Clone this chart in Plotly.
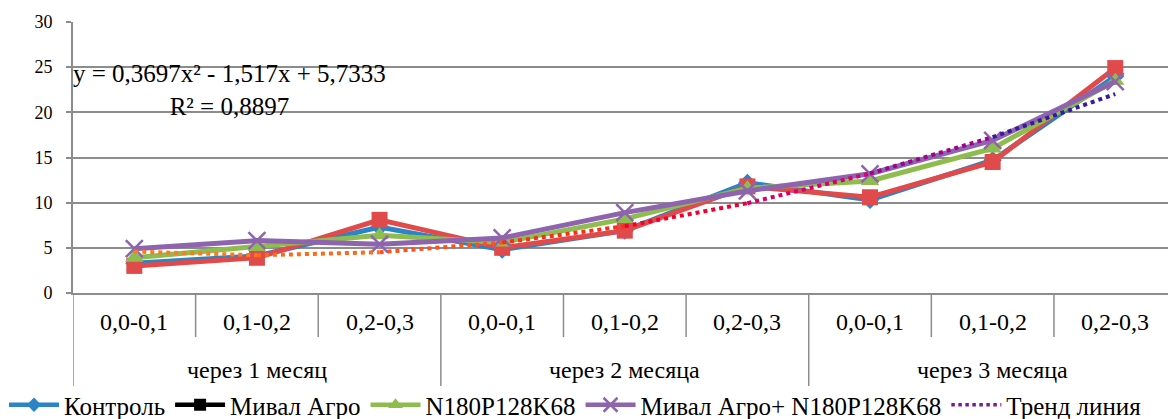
import plotly.graph_objects as go

# ---- data ----
sub_labels = ["0,0-0,1", "0,1-0,2", "0,2-0,3", "0,0-0,1", "0,1-0,2", "0,2-0,3", "0,0-0,1", "0,1-0,2", "0,2-0,3"]
group_labels = ["через 1 месяц", "через 2 месяца", "через 3 месяца"]
kontrol = [3.3, 4.1, 7.3, 4.8, 6.9, 12.2, 10.3, 14.7, 24.0]
mival = [3.0, 3.9, 8.1, 5.0, 6.9, 11.8, 10.6, 14.5, 24.9]
npk = [3.9, 5.1, 6.4, 5.6, 8.2, 11.6, 12.4, 16.0, 23.5]
combo = [4.9, 5.8, 5.4, 6.1, 8.9, 11.3, 13.2, 16.9, 23.4]
trend_coeffs = [0.3697, -1.517, 5.7333]  # a, b, c of y = a x^2 + b x + c
y_ticks = [0, 5, 10, 15, 20, 25, 30]
names = ["Контроль", "Мивал Агро", "N180P128K68", "Мивал Агро+ N180P128K68", "Тренд линия"]

FONT = "Times New Roman, Liberation Serif, DejaVu Serif, serif"
GRID = "#8c8c8c"
xs = list(range(len(sub_labels)))
a, b, c = trend_coeffs
trend = [a * (i + 1) ** 2 + b * (i + 1) + c for i in xs]

fig = go.Figure()

series = [
    (kontrol, "#2a84c6", "diamond", 14, None),
    (mival, "#e04a4a", "square", 16, None),
    (npk, "#8fbc4e", "triangle-up", 16, None),
    (combo, "#8d64ad", "x-thin-open", 17, 2.5),
]
for vals, col, sym, sz, mlw in series:
    marker = dict(symbol=sym, size=sz, color=col)
    if mlw:
        marker["line"] = dict(width=mlw, color=col)
    fig.add_trace(go.Scatter(x=xs, y=vals, mode="lines+markers",
                             line=dict(color=col, width=5), marker=marker,
                             showlegend=False, hoverinfo="skip"))

seg_colors = ["#ff7a1a", "#ff6a1a", "#ff5020", "#ff2a1a", "#f00032", "#d8006c", "#a0008e", "#3a1a9a"]
for i in range(len(xs) - 1):
    fig.add_trace(go.Scatter(x=xs[i:i + 2], y=trend[i:i + 2], mode="lines",
                             line=dict(color=seg_colors[i], width=4, dash="dot"),
                             showlegend=False, hoverinfo="skip"))

# legend-only entries
leg = [
    ("#2a84c6", "diamond", 11, None),
    ("#000000", "square", 12, None),
    ("#8fbc4e", "triangle-up", 13, None),
    ("#8d64ad", "x-thin-open", 14, 2.5),
]
for (col, sym, sz, mlw), nm in zip(leg, names[:4]):
    marker = dict(symbol=sym, size=sz, color=col)
    if mlw:
        marker["line"] = dict(width=mlw, color=col)
    fig.add_trace(go.Scatter(x=[None], y=[None], mode="lines+markers", name=nm,
                             line=dict(color=col, width=4.5), marker=marker))
fig.add_trace(go.Scatter(x=[None], y=[None], mode="lines", name=names[4],
                         line=dict(color="#7a1a9a", width=3.5, dash="dot")))

# category separators & labels
PH = 271.0
PW = 1095.0
def py(p):
    return (293 - p) / PH

shapes = []
for k in range(len(xs) + 1):
    xb = k - 0.5
    y1 = py(386) if k % 3 == 0 else py(337)
    shapes.append(dict(type="line", xref="x", yref="paper", x0=xb, x1=xb, y0=0, y1=y1,
                       line=dict(color=GRID, width=1.5)))
fig.update_layout(shapes=shapes)

ann = []
for i, lab in enumerate(sub_labels):
    ann.append(dict(x=i, y=py(322), xref="x", yref="paper", text=lab, showarrow=False,
                    font=dict(family=FONT, size=24, color="black"), yanchor="middle"))
for g, lab in enumerate(group_labels):
    ann.append(dict(x=g * 3 + 1, y=py(370), xref="x", yref="paper", text=lab, showarrow=False,
                    font=dict(family=FONT, size=24, color="black"), yanchor="middle"))
ann.append(dict(x=(230 - 135) / 122.5, y=py(90), xref="x", yref="paper",
                text="y = 0,3697x² - 1,517x + 5,7333<br>R² = 0,8897", showarrow=False,
                align="center", font=dict(family=FONT, size=25, color="black"), yanchor="middle"))
fig.update_layout(annotations=ann)

fig.update_xaxes(range=[-0.5, 8.43], showticklabels=False, showgrid=False, zeroline=False,
                 showline=True, linecolor=GRID, linewidth=2, ticks="")
fig.update_yaxes(range=[0, 30], tickvals=y_ticks, showgrid=True, gridcolor=GRID, gridwidth=1.5,
                 zeroline=False, showline=True, linecolor=GRID, linewidth=2,
                 ticks="outside", ticklen=5, tickcolor=GRID, tickwidth=1.5,
                 ticklabelstandoff=10,
                 tickfont=dict(family=FONT, size=18, color="black"))

fig.update_layout(
    width=1168, height=419,
    margin=dict(l=73, r=0, t=22, b=126, autoexpand=False),
    paper_bgcolor="white", plot_bgcolor="white",
    showlegend=True,
    legend=dict(orientation="h", x=(4 - 73) / PW, xanchor="left", y=py(405), yanchor="middle",
                font=dict(family=FONT, size=25, color="black"), itemwidth=50,
                tracegroupgap=0, bgcolor="rgba(0,0,0,0)"),
)

fig.write_html("out.html", config={"displayModeBar": False},
               post_script="document.body.style.margin='0';document.body.style.overflow='hidden';")
